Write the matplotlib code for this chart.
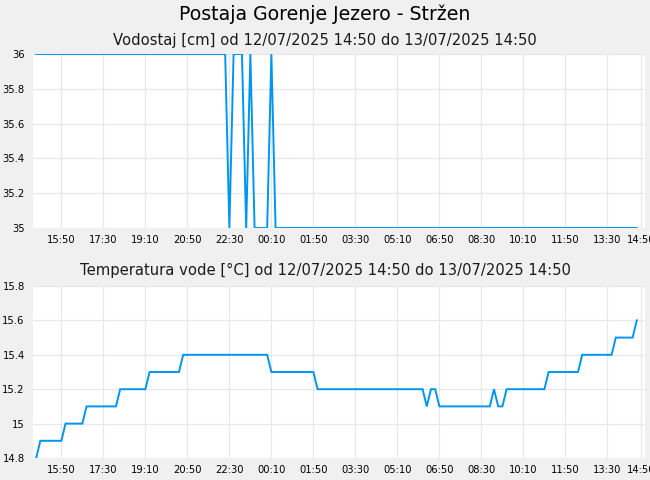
import matplotlib
matplotlib.use("Agg")
import matplotlib.pyplot as plt
import pandas as pd
from matplotlib.ticker import FuncFormatter

# ---------------- data ----------------
start_time = "2025-07-12 14:50"
end_time = "2025-07-13 14:50"
sample_step = "10min"

# water level [cm], one value per 10 min from 14:50 to 14:40 next day
water_level = [
    36, 36, 36, 36, 36, 36, 36, 36, 36, 36,   # 14:50 - 16:20
    36, 36, 36, 36, 36, 36, 36, 36, 36, 36,   # 16:30 - 18:00
    36, 36, 36, 36, 36, 36, 36, 36, 36, 36,   # 18:10 - 19:40
    36, 36, 36, 36, 36, 36, 36, 36, 36, 36,   # 19:50 - 21:20
    36, 36, 36, 36, 36, 36, 35, 36, 36, 36,   # 21:30 - 23:00
    35, 36, 35, 35, 35, 35, 36, 35, 35, 35,   # 23:10 - 00:40
    35, 35, 35, 35, 35, 35, 35, 35, 35, 35,   # 00:50 - 02:20
    35, 35, 35, 35, 35, 35, 35, 35, 35, 35,   # 02:30 - 04:00
    35, 35, 35, 35, 35, 35, 35, 35, 35, 35,   # 04:10 - 05:40
    35, 35, 35, 35, 35, 35, 35, 35, 35, 35,   # 05:50 - 07:20
    35, 35, 35, 35, 35, 35, 35, 35, 35, 35,   # 07:30 - 09:00
    35, 35, 35, 35, 35, 35, 35, 35, 35, 35,   # 09:10 - 10:40
    35, 35, 35, 35, 35, 35, 35, 35, 35, 35,   # 10:50 - 12:20
    35, 35, 35, 35, 35, 35, 35, 35, 35, 35,   # 12:30 - 14:00
    35, 35, 35, 35,                           # 14:10 - 14:40
]

# water temperature [°C]
water_temp = [
    14.8, 14.9, 14.9, 14.9, 14.9, 14.9, 14.9, 15.0, 15.0, 15.0,   # 14:50 - 16:20
    15.0, 15.0, 15.1, 15.1, 15.1, 15.1, 15.1, 15.1, 15.1, 15.1,   # 16:30 - 18:00
    15.2, 15.2, 15.2, 15.2, 15.2, 15.2, 15.2, 15.3, 15.3, 15.3,   # 18:10 - 19:40
    15.3, 15.3, 15.3, 15.3, 15.3, 15.4, 15.4, 15.4, 15.4, 15.4,   # 19:50 - 21:20
    15.4, 15.4, 15.4, 15.4, 15.4, 15.4, 15.4, 15.4, 15.4, 15.4,   # 21:30 - 23:00
    15.4, 15.4, 15.4, 15.4, 15.4, 15.4, 15.3, 15.3, 15.3, 15.3,   # 23:10 - 00:40
    15.3, 15.3, 15.3, 15.3, 15.3, 15.3, 15.3, 15.2, 15.2, 15.2,   # 00:50 - 02:20
    15.2, 15.2, 15.2, 15.2, 15.2, 15.2, 15.2, 15.2, 15.2, 15.2,   # 02:30 - 04:00
    15.2, 15.2, 15.2, 15.2, 15.2, 15.2, 15.2, 15.2, 15.2, 15.2,   # 04:10 - 05:40
    15.2, 15.2, 15.2, 15.1, 15.2, 15.2, 15.1, 15.1, 15.1, 15.1,   # 05:50 - 07:20
    15.1, 15.1, 15.1, 15.1, 15.1, 15.1, 15.1, 15.1, 15.1, 15.2,   # 07:30 - 09:00
    15.1, 15.1, 15.2, 15.2, 15.2, 15.2, 15.2, 15.2, 15.2, 15.2,   # 09:10 - 10:40
    15.2, 15.2, 15.3, 15.3, 15.3, 15.3, 15.3, 15.3, 15.3, 15.3,   # 10:50 - 12:20
    15.4, 15.4, 15.4, 15.4, 15.4, 15.4, 15.4, 15.4, 15.5, 15.5,   # 12:30 - 14:00
    15.5, 15.5, 15.5, 15.6,                                       # 14:10 - 14:40
]

tick_labels = ["15:50", "17:30", "19:10", "20:50", "22:30", "00:10", "01:50",
               "03:30", "05:10", "06:50", "08:30", "10:10", "11:50", "13:30", "14:50"]
tick_times = ["2025-07-12 15:50", "2025-07-12 17:30", "2025-07-12 19:10",
              "2025-07-12 20:50", "2025-07-12 22:30", "2025-07-13 00:10",
              "2025-07-13 01:50", "2025-07-13 03:30", "2025-07-13 05:10",
              "2025-07-13 06:50", "2025-07-13 08:30", "2025-07-13 10:10",
              "2025-07-13 11:50", "2025-07-13 13:30", "2025-07-13 14:50"]

level_ticks = [35, 35.2, 35.4, 35.6, 35.8, 36]
temp_ticks = [14.8, 15.0, 15.2, 15.4, 15.6, 15.8]

main_title = "Postaja Gorenje Jezero - Stržen"
title_level = "Vodostaj [cm] od 12/07/2025 14:50 do 13/07/2025 14:50"
title_temp = "Temperatura vode [°C] od 12/07/2025 14:50 do 13/07/2025 14:50"

# ---------------- plot ----------------
times = pd.date_range(start=start_time, periods=len(water_level), freq=sample_step)
t0 = pd.Timestamp(start_time)
t1 = pd.Timestamp(end_time)
xlo = t0 - pd.Timedelta(minutes=7.5)
xhi = t1 + pd.Timedelta(minutes=9.5)
tick_pos = pd.to_datetime(tick_times)

BG = "#f0f0f0"
LINE = "#0096f0"
GRID = "#e8e8e8"

plt.rcParams["font.family"] = ["DejaVu Sans"]
fig = plt.figure(figsize=(6.5, 4.8), dpi=100, facecolor=BG)

W, H = 650.0, 480.0
ax1 = fig.add_axes([33 / W, 1 - 228 / H, 612 / W, 174 / H])
ax2 = fig.add_axes([33 / W, 1 - 458 / H, 612 / W, 172 / H])

fmt = FuncFormatter(lambda v, p: ("%g" % round(v, 2)))

for ax, vals, yt in [(ax1, water_level, level_ticks),
                     (ax2, water_temp, temp_ticks)]:
    ax.set_facecolor("white")
    ax.plot(times, vals, color=LINE, lw=1.4, solid_joinstyle="miter", zorder=3)
    ax.set_xlim(xlo, xhi)
    ax.set_ylim(yt[0], yt[-1])
    ax.set_yticks(yt)
    ax.yaxis.set_major_formatter(fmt)
    ax.set_xticks(tick_pos)
    ax.set_xticklabels(tick_labels)
    ax.grid(True, color=GRID, lw=0.9, zorder=0)
    ax.set_axisbelow(True)
    for s in ax.spines.values():
        s.set_visible(False)
    ax.tick_params(axis="both", length=0, labelsize=7.2, colors="#000000")
    ax.tick_params(axis="y", pad=6)
    ax.tick_params(axis="x", pad=5)

fig.text(0.5, 1 - 14 / H, main_title, ha="center", va="center", fontsize=13.6, color="#000000")
fig.text(0.5, 1 - 40 / H, title_level, ha="center", va="center", fontsize=10.6, color="#1a1a1a")
fig.text(0.5, 1 - 270 / H, title_temp, ha="center", va="center", fontsize=10.6, color="#1a1a1a")

fig.savefig("out.png", dpi=100, facecolor=BG)
